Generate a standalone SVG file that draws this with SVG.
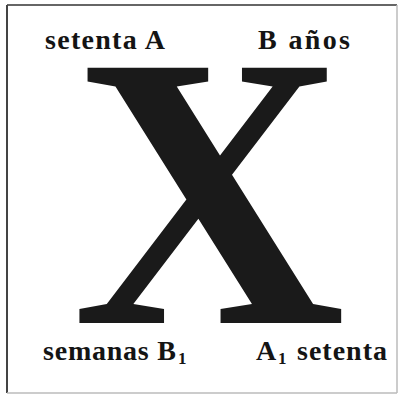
<svg xmlns="http://www.w3.org/2000/svg" width="400" height="395" viewBox="0 0 400 395">
<style>
.lbl{font-family:"Liberation Serif","Times New Roman",serif;font-weight:bold;font-size:28px;fill:#141414}
.sub{font-family:"Liberation Serif","Times New Roman",serif;font-weight:bold;font-size:17px;fill:#141414}
.big{font-family:"Liberation Serif","Times New Roman",serif;font-weight:bold;font-size:390px;fill:#1a1a1a}
</style>
<rect width="400" height="395" fill="#fff"/>
<g id="frame">
<line x1="7" y1="5" x2="397" y2="5" stroke="#333" stroke-width="1.5"/>
<line x1="7" y1="5" x2="7" y2="393" stroke="#444" stroke-width="2"/>
<line x1="397" y1="5" x2="397" y2="393" stroke="#bbb" stroke-width="1.5"/>
<line x1="7" y1="393" x2="397" y2="393" stroke="#bbb" stroke-width="1.5"/>
</g>
<g id="letter-x">
<text class="big" transform="translate(209,323) scale(0.97,1)" x="0" y="0" text-anchor="middle">X</text>
</g>
<g id="label-tl">
<text class="lbl" x="45" y="49" textLength="120">setenta A</text>
</g>
<g id="label-tr">
<text class="lbl" x="258" y="49" textLength="92">B años</text>
</g>
<g id="label-bl">
<text class="lbl" x="43" y="360" textLength="133">semanas B</text>
<text class="sub" x="178" y="364">1</text>
</g>
<g id="label-br">
<text class="lbl" x="256" y="360">A</text>
<text class="sub" x="278" y="364">1</text>
<text class="lbl" x="297" y="360" textLength="90">setenta</text>
</g>
</svg>
